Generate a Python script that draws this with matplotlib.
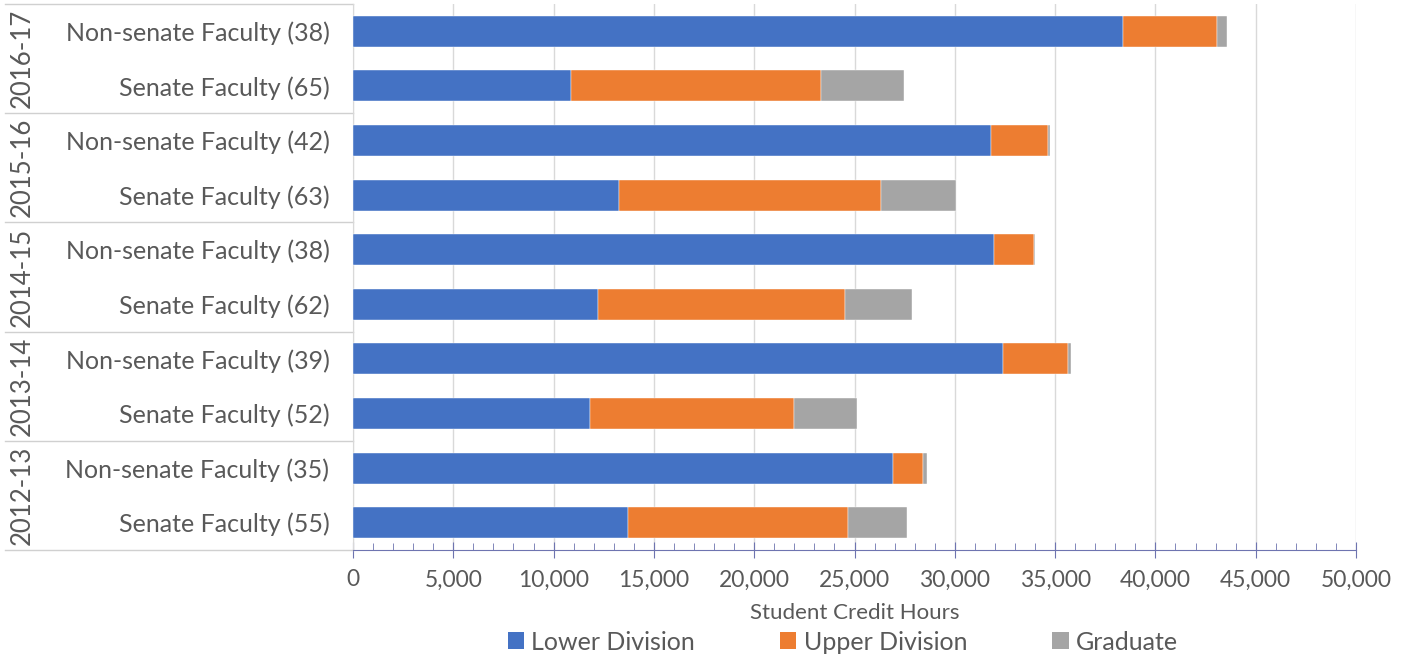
import matplotlib
matplotlib.use("Agg")
import matplotlib.pyplot as plt
import matplotlib.transforms as mtransforms
from matplotlib.patches import Patch
import numpy as np

plt.rcParams['font.family'] = ['Lato', 'DejaVu Sans']

# data, oldest year first
years = ['2012-13', '2013-14', '2014-15', '2015-16', '2016-17']
senate_n = [55, 52, 62, 63, 65]
nonsenate_n = [35, 39, 38, 42, 38]

senate_lower = [13690, 11790, 12230, 13280, 10890]
senate_upper = [11000, 10190, 12290, 13030, 12430]
senate_grad = [2940, 3160, 3370, 3750, 4140]

nonsenate_lower = [26900, 32390, 31940, 31800, 38390]
nonsenate_upper = [1520, 3240, 2010, 2840, 4680]
nonsenate_grad = [170, 140, 70, 90, 500]

series_names = ['Lower Division', 'Upper Division', 'Graduate']
colors = ['#4472C4', '#ED7D31', '#A5A5A5']
txt = '#595959'

# build rows top to bottom: newest year first, non-senate above senate
labels, lower, upper, grad = [], [], [], []
for i in reversed(range(len(years))):
    labels.append('Non-senate Faculty (%d)' % nonsenate_n[i])
    lower.append(nonsenate_lower[i]); upper.append(nonsenate_upper[i]); grad.append(nonsenate_grad[i])
    labels.append('Senate Faculty (%d)' % senate_n[i])
    lower.append(senate_lower[i]); upper.append(senate_upper[i]); grad.append(senate_grad[i])
lower, upper, grad = np.array(lower), np.array(upper), np.array(grad)
y = np.arange(len(labels))

W, H = 1403, 655
fig = plt.figure(figsize=(W / 100, H / 100), dpi=100)
ax = fig.add_axes([353 / W, 1 - 550 / H, 1003 / W, 546 / H])

h = 0.57
ax.barh(y, lower, h, color=colors[0], edgecolor='white', linewidth=0.3, zorder=3)
ax.barh(y, upper, h, left=lower, color=colors[1], edgecolor='white', linewidth=0.3, zorder=3)
ax.barh(y, grad, h, left=lower + upper, color=colors[2], edgecolor='white', linewidth=0.3, zorder=3)

ax.set_ylim(len(labels) - 0.5, -0.5)
ax.set_xlim(0, 50000)
ax.set_xticks(np.arange(0, 50001, 5000))
ax.set_xticks(np.arange(0, 50001, 1000), minor=True)
ax.set_xticklabels(['{:,}'.format(v) for v in range(0, 50001, 5000)], fontsize=16.5, color=txt)
ax.grid(axis='x', which='major', color='#D9D9D9', linewidth=1, zorder=0)

axis_col = '#6E74B0'
for s in ['top', 'right']:
    ax.spines[s].set_visible(False)
ax.spines['bottom'].set_color(axis_col)
ax.spines['left'].set_color('#D9D9D9')
ax.tick_params(axis='x', which='major', direction='inout', length=12, color=axis_col, pad=8)
ax.tick_params(axis='x', which='minor', direction='in', length=5, color=axis_col)

ax.set_yticks(y)
ax.set_yticklabels(labels, fontsize=18, color=txt)
ax.tick_params(axis='y', length=0, pad=17)

ax.set_xlabel('Student Credit Hours', fontsize=16, color=txt, labelpad=9)

# group separators and year labels on the left
tr = mtransforms.blended_transform_factory(fig.transFigure, ax.transData)
x0, x1 = 5 / W, 353 / W
for k in range(len(years) + 1):
    yy = -0.5 + 2 * k
    ax.plot([x0, x1], [yy, yy], transform=tr, color='#D0D0D0', linewidth=1, clip_on=False)
for k, yr in enumerate(reversed(years)):
    ax.text(22 / W, 2 * k + 0.5, yr, transform=tr, rotation=90, ha='center', va='center',
            fontsize=18.5, color=txt)

handles = [Patch(facecolor=c) for c in colors]
fig.legend(handles, series_names, loc='center', bbox_to_anchor=(843 / W, 1 - 642 / H), ncol=3,
           frameon=False, fontsize=18, labelcolor=txt, handlelength=0.65, handleheight=0.65,
           handletextpad=0.3, columnspacing=3.4, borderpad=0)

fig.savefig('out.png', dpi=100)
